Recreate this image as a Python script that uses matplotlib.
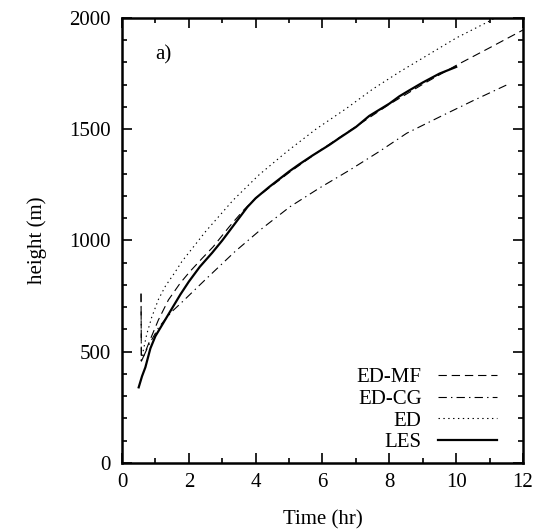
import matplotlib
matplotlib.use("Agg")
import matplotlib.pyplot as plt
from matplotlib.ticker import MultipleLocator

plt.rcParams['font.family'] = ['Liberation Serif', 'DejaVu Serif']
plt.rcParams['lines.scale_dashes'] = False

# LES (solid)
les_t = [0.5, 0.6, 0.7, 0.85, 1.0, 1.35, 1.75, 2.0, 2.33, 2.7, 3.0, 3.4, 3.75, 4.0,
         4.4, 4.7, 5.0, 5.3, 5.7, 6.2, 6.5, 7.0, 7.4, 8.0, 8.3, 8.6, 9.0, 9.5, 10.0]
les_h = [340, 390, 430, 515, 570, 658, 758, 815, 882, 945, 1000, 1080, 1150, 1190,
         1240, 1275, 1310, 1342, 1382, 1429, 1460, 1510, 1560, 1615, 1648, 1675, 1710, 1750, 1780]

# ED-MF (dashed)
edmf_t = [0.57, 0.58, 0.62, 0.84, 1.09, 1.39, 1.74, 2.03, 2.4, 2.73, 3.2, 3.63, 4.0,
          5.0, 6.0, 7.0, 8.0, 9.0, 10.0, 11.0, 12.0]
edmf_h = [760, 458, 470, 553, 643, 733, 808, 860, 920, 972, 1060, 1135, 1190,
          1305, 1412, 1512, 1612, 1702, 1787, 1866, 1946]

# ED (dotted)
ed_t = [0.57, 0.6, 0.64, 0.74, 0.89, 1.09, 1.3, 1.59, 1.79, 2.5, 3.33, 4.1, 4.93, 5.8,
        6.72, 7.5, 8.32, 9.0, 10.0, 11.06, 11.2]
ed_h = [460, 475, 508, 578, 655, 735, 795, 858, 905, 1040, 1182, 1295, 1399, 1500,
        1594, 1680, 1759, 1820, 1910, 1991, 2004]

# ED-CG (dash-dot)
edcg_t = [0.57, 0.58, 0.62, 0.8, 1.1, 1.49, 1.74, 1.9, 2.48, 3.38, 4.2, 5.03, 5.9,
          6.82, 7.7, 8.52, 9.5, 10.5, 11.51]
edcg_h = [762, 460, 470, 530, 610, 680, 715, 738, 822, 950, 1055, 1152, 1235,
          1317, 1400, 1482, 1555, 1628, 1699]

fig = plt.figure(figsize=(5.35, 5.32), dpi=100)
ax = fig.add_axes([0.228, 0.1297, 0.7496, 0.8365])

l_mf, = ax.plot(edmf_t, edmf_h, color='black', lw=0.8, dashes=(6, 3.5), label='ED-MF')
l_cg, = ax.plot(edcg_t, edcg_h, color='black', lw=0.8, dashes=(6, 3, 1, 3), label='ED-CG')
l_ed, = ax.plot(ed_t, ed_h, color='black', lw=0.8, dashes=(1, 2.5), label='ED')
l_les, = ax.plot(les_t, les_h, color='black', lw=1.6, label='LES')

ax.set_xlim(0, 12)
ax.set_ylim(0, 2000)
ax.xaxis.set_major_locator(MultipleLocator(2))
ax.xaxis.set_minor_locator(MultipleLocator(1))
ax.yaxis.set_major_locator(MultipleLocator(500))
ax.yaxis.set_minor_locator(MultipleLocator(100))
ax.tick_params(which='both', direction='in', top=True, right=True, width=1.2, labelsize=15)
ax.tick_params(which='major', length=7)
ax.tick_params(which='minor', length=3.5)
ax.tick_params(axis='y', which='major', pad=8)
ax.tick_params(axis='x', which='major', pad=7)
for s in ax.spines.values():
    s.set_linewidth(1.8)

ax.set_xlabel('Time (hr)', fontsize=15, labelpad=13)
ax.set_ylabel('height (m)', fontsize=15, labelpad=16)
ax.text(1.0, 1835, 'a)', fontsize=15, va='center', ha='left')

ax.legend(handles=[l_mf, l_cg, l_ed, l_les], loc='lower right', frameon=False,
          markerfirst=False, fontsize=15, handlelength=2.8, handletextpad=0.8,
          labelspacing=0.1, borderaxespad=0.0, bbox_to_anchor=(0.955, 0.005))

fig.savefig('out.png', dpi=100)
